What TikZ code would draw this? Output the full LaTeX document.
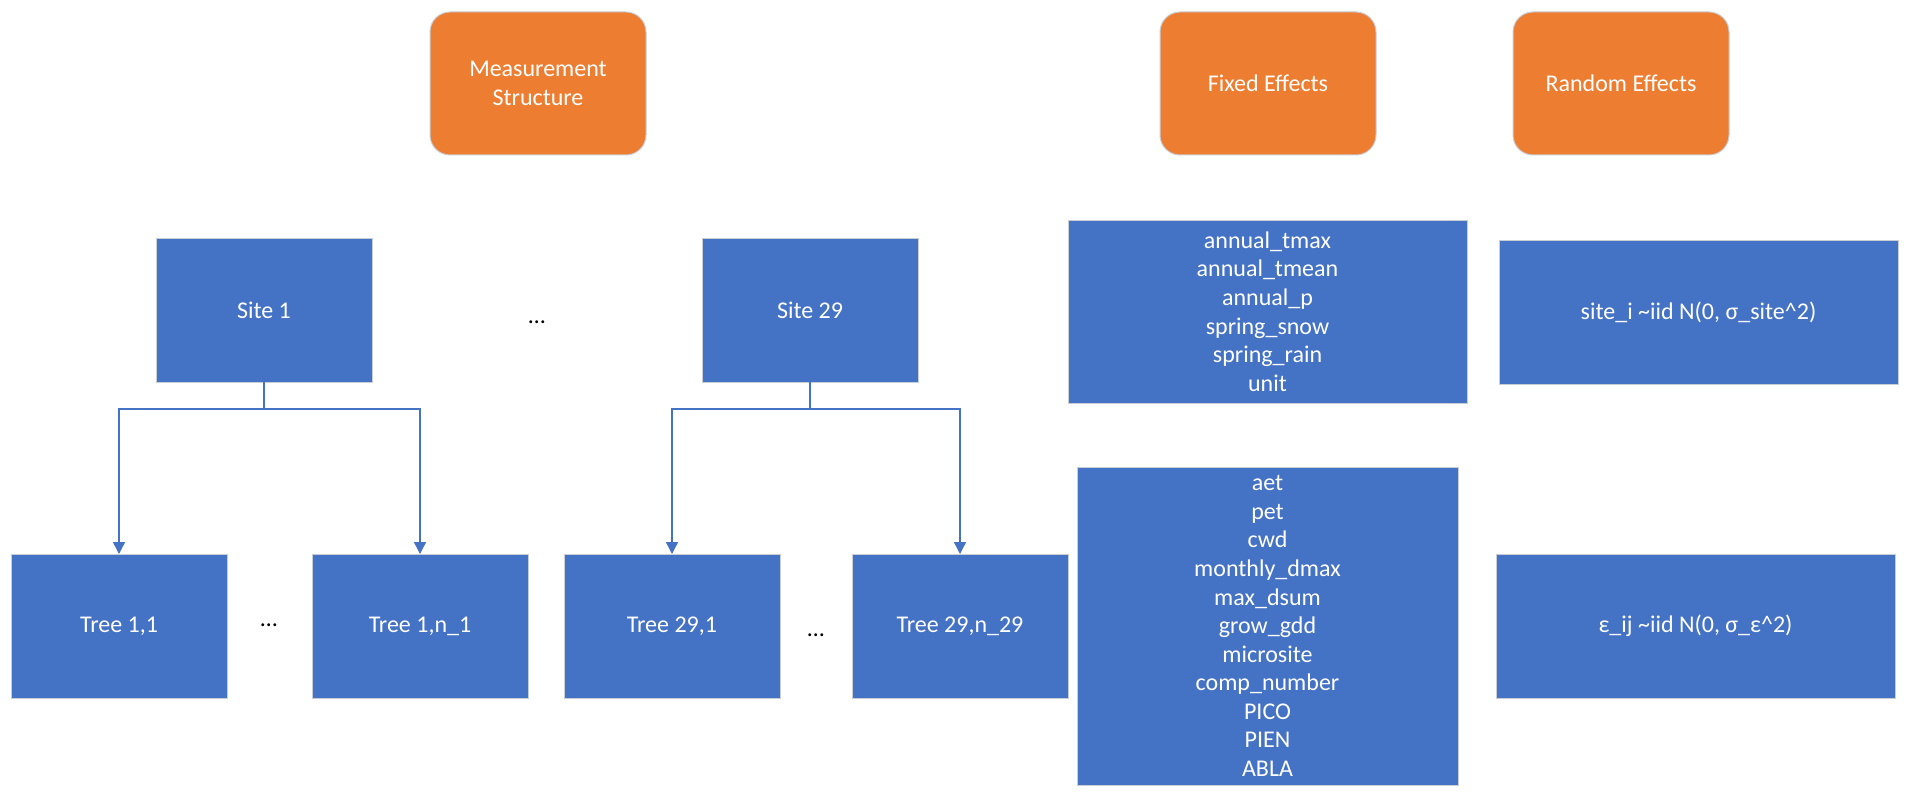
\documentclass[tikz,border=0pt]{standalone}
\usepackage{fontspec}
\setmainfont{Carlito}
\usetikzlibrary{arrows.meta}
\definecolor{boxblue}{HTML}{4472C4}
\definecolor{boxorange}{HTML}{ED7D31}
\definecolor{rim}{HTML}{C9CDD4}
\begin{document}
\begin{tikzpicture}[x=0.75pt,y=-0.75pt,
  every node/.style={inner sep=0pt,outer sep=0pt,font=\fontsize{18}{21.4}\selectfont},
  head/.style={draw=rim,line width=0.75pt,fill=boxorange,text=white,rounded corners=15pt,
    minimum width=162pt,minimum height=107.25pt,align=center},
  cell/.style={draw=rim,line width=0.75pt,fill=boxblue,text=white,
    minimum width=162pt,minimum height=108pt,align=center},
  wide/.style={cell,minimum width=299.25pt},
  conn/.style={draw=boxblue,line width=1.1pt,-{Triangle[width=9pt,length=9pt]}},
  more/.style={anchor=base,text=black}
]
\useasboundingbox[fill=white] (0,0) rectangle (1909,806);

% column headings
\node[head] (meas) at (538,83.5) {Measurement\\Structure};
\node[head] (fixed) at (1268,83.5) {Fixed Effects};
\node[head] (random) at (1621,83.5) {Random Effects};

% measurement structure: sites and trees
\node[cell] (s1) at (264,310) {Site 1};
\node[cell] (s29) at (810,310) {Site 29};
\node[more] (sdots) at (537,323) {…};

\node[cell] (t11) at (119,626) {Tree 1,1};
\node[cell] (t1n) at (420,626) {Tree 1,n\_1};
\node[cell] (t291) at (672,626) {Tree 29,1};
\node[cell] (t29n) at (960,626) {Tree 29,n\_29};
\node[more] (tdots1) at (269,626) {…};
\node[more] (tdots2) at (816,636) {…};

\draw[conn] (s1.south) -- ++(0,27) -| (t11.north);
\draw[conn] (s1.south) -- ++(0,27) -| (t1n.north);
\draw[conn] (s29.south) -- ++(0,27) -| (t291.north);
\draw[conn] (s29.south) -- ++(0,27) -| (t29n.north);

% fixed effects (site level and tree level)
\node[wide,minimum height=137.25pt] (fx1) at (1267.5,311.5)
  {annual\_tmax\\annual\_tmean\\annual\_p\\spring\_snow\\spring\_rain\\unit};
\node[cell,minimum width=285.75pt,minimum height=238.5pt] (fx2) at (1267.5,626)
  {aet\\pet\\cwd\\monthly\_dmax\\max\_dsum\\grow\_gdd\\microsite\\comp\_number\\PICO\\PIEN\\ABLA};

% random effects
\node[wide] (re1) at (1698.5,312)
  {site\_i \textasciitilde iid N(0, σ\_site\textasciicircum 2)};
\node[wide] (re2) at (1695.5,626)
  {ε\_ij \textasciitilde iid N(0, σ\_ε\textasciicircum 2)};
\end{tikzpicture}
\end{document}
